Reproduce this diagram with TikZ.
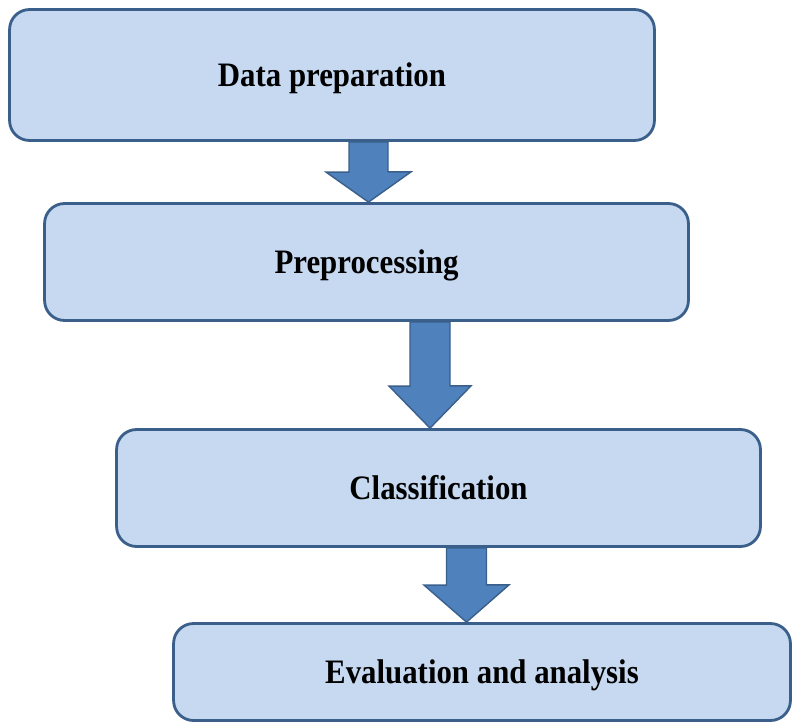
\documentclass[tikz,border=0pt]{standalone}
\usepackage{fontspec}
\newfontfamily\stepfont[FakeStretch=0.9]{Liberation Serif}
\usepackage{xcolor}
\definecolor{FLOWfill}{HTML}{C6D9F1}
\definecolor{FLOWline}{HTML}{3A5F8B}
\definecolor{FLOWarrow}{HTML}{4F81BD}
\usetikzlibrary{calc, positioning}

\begin{document}
\begin{tikzpicture}[x=0.02cm, y=-0.02cm]
    \tikzset{
  stagebox/.style={rectangle, rounded corners=0.4cm, draw=FLOWline, fill=FLOWfill,
    line width=1.6pt, font=\stepfont\fontsize{19.5}{23}\selectfont\bfseries,
    inner sep=0pt, text height=15.6pt, text depth=2pt},
  flowarrow/.style={draw=FLOWline, fill=FLOWarrow, line width=0.8pt,
    line join=miter},
}
% ============================================================
%  Four-stage pipeline: boxes linked by block arrows
% ============================================================
\useasboundingbox (0,0) rectangle (794,723);

% ── Stage boxes ──────────────────────────────────────────────
\node[stagebox, minimum width=12.9cm,  minimum height=2.62cm] (data)    at (332, 75)    {Data preparation};
\node[stagebox, minimum width=12.88cm, minimum height=2.34cm] (prepro)  at (366.5, 262) {Preprocessing};
\node[stagebox, minimum width=12.88cm, minimum height=2.34cm] (classif) at (438.5, 488) {Classification};
\node[stagebox, minimum width=12.34cm, minimum height=1.94cm] (evalu)   at (482, 672)   {Evaluation and analysis};

% ── Arrow columns ────────────────────────────────────────────
\coordinate (a1) at (368.5, 0);
\coordinate (a2) at (430, 0);
\coordinate (a3) at (466.5, 0);

% ── Block arrows (from/to/column/shaft/head/half shaft/half head)
\foreach \from/\to/\col/\shaft/\head/\s/\h in {
    data/prepro/a1/30/30/19.5/42.5,
    prepro/classif/a2/64/42/20/41,
    classif/evalu/a3/37/37/20/42.5}{
  \draw[flowarrow] (\from.south -| \col) ++(-\s,0) -- ++(2*\s,0) -- ++(0,\shaft)
    -- ++(\h-\s,0) -- (\to.north -| \col) -- ++(-\h,-\head) -- ++(\h-\s,0) -- cycle;
}

  \end{tikzpicture}
\end{document}
